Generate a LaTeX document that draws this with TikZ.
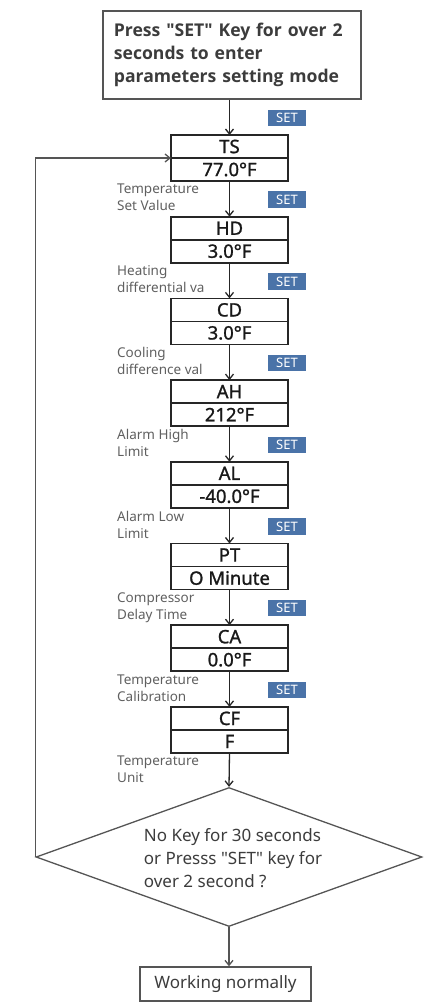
\documentclass[tikz,border=0pt]{standalone}
\usepackage{fontspec}
\setmainfont{Noto Sans}
\newfontfamily\headfont{Open Sans}
\newfontfamily\boxfont{Noto Sans}[FakeBold=1.2]
\usetikzlibrary{arrows.meta,shapes.geometric,positioning}
\definecolor{setblue}{HTML}{4A73A8}
\definecolor{darktext}{HTML}{3C3C3C}
\definecolor{labelgray}{HTML}{606060}
\definecolor{linegray}{HTML}{555555}

\begin{document}
\begin{tikzpicture}[x=1pt,y=-1pt,
  parbox/.style={draw=black!85, line width=1.6pt, outer sep=0pt, inner sep=0pt,
    minimum width=117pt, minimum height=23pt, text=black!90, font=\boxfont\fontsize{18.5}{20}\selectfont},
  setbadge/.style={fill=setblue, text=white, minimum width=38pt, minimum height=16.5pt,
    inner sep=0pt, font=\fontsize{13}{14}\selectfont},
  desc/.style={anchor=north west, inner sep=0pt, align=left, text=labelgray,
    font=\fontsize{13.5}{17}\selectfont},
  flow/.style={-{Straight Barb[length=5pt,width=8pt]}, line width=1.3pt, black!85},
  back/.style={-{Straight Barb[length=5pt,width=8pt]}, line width=1.3pt, linegray}]
\useasboundingbox (0,0) rectangle (429,1007);

\node[draw=linegray, line width=1.3pt, minimum width=258pt, minimum height=88pt,
  text width=236pt, align=left, text=darktext,
  font=\headfont\bfseries\fontsize{17.6}{23}\selectfont] (start) at (231.9,55)
  {Press \textquotedbl SET\textquotedbl{} Key for over 2\\seconds to enter\\parameters setting mode};

% parameter boxes
\foreach \tag/\val/\lineA/\lineB [count=\i] in {
    TS/77.0\textdegree F/Temperature/Set Value,
    HD/3.0\textdegree F/Heating/differential va,
    CD/3.0\textdegree F/Cooling/difference val,
    AH/212\textdegree F/Alarm High/Limit,
    AL/-40.0\textdegree F/Alarm Low/Limit,
    PT/O Minute/Compressor/Delay Time,
    CA/0.0\textdegree F/Temperature/Calibration,
    CF/F/Temperature/Unit} {
  \pgfmathsetmacro\ytop{135+81.7*(\i-1)}
  \node[parbox] (n\i) at (229.5,\ytop+11.5) {\tag};
  \node[parbox, below=0pt of n\i] (v\i) {\val};
  \node[desc] (d\i) at (117,\ytop+49) {\lineA\\\lineB};
  \node[setbadge] (s\i) at (287,\ytop-17) {SET};
}

\node[diamond, draw=linegray, line width=1.3pt, aspect=2.78, minimum width=386pt,
  minimum height=139pt, inner sep=0pt] (dec) at (229,857) {};
\node[align=left, inner sep=0pt, text=darktext, font=\fontsize{17}{23}\selectfont]
  (dectext) at (233,858) {No Key for 30 seconds\\or Presss \textquotedbl SET\textquotedbl{} key for\\over 2 second ?};
\node[draw=linegray, line width=1.3pt, minimum width=171pt, minimum height=34pt,
  text=darktext, font=\fontsize{17}{20}\selectfont] (work) at (225.5,984) {Working normally};

\draw[flow] (start.south -| n1.north) -- (n1.north);
\foreach \i [evaluate=\i as \j using int(\i+1)] in {1,...,7}
  \draw[flow] (v\i.south) -- (n\j.north);
\draw[flow] (v8.south) -- (dec.north);
\draw[back] (dec.south) -- (dec.south |- work.north);
\draw[back] (dec.west) |- (n1.south west);
\end{tikzpicture}
\end{document}
